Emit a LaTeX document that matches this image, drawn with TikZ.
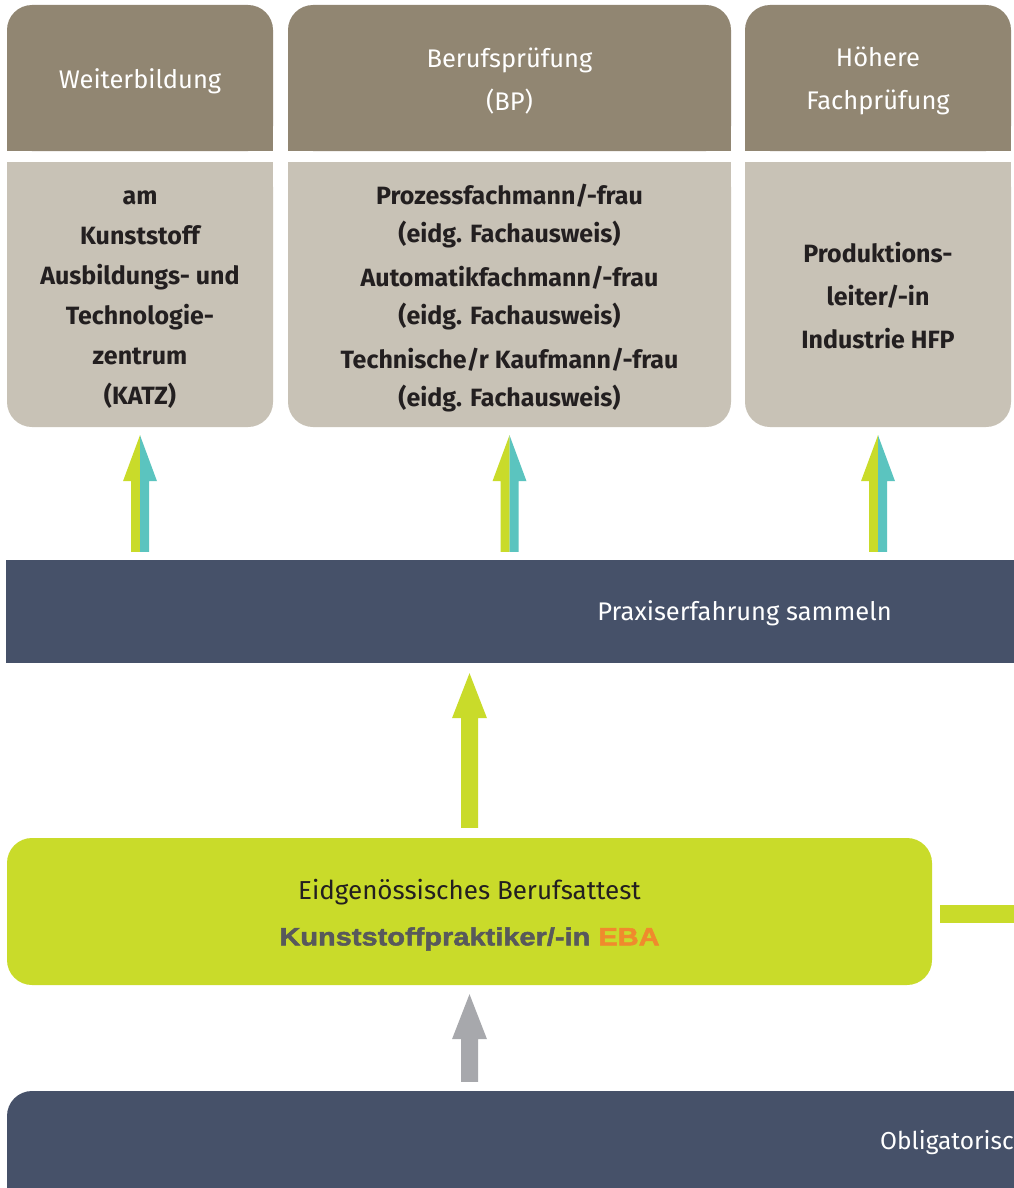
\documentclass[tikz,border=0pt]{standalone}
\usepackage{fontspec}
\setmainfont{Fira Sans}
\newfontfamily\heavyfont[FakeBold=2, FakeStretch=1.16]{Liberation Sans}
\usetikzlibrary{calc}
\definecolor{hdr}{HTML}{918672}
\definecolor{bdy}{HTML}{C8C2B6}
\definecolor{navy}{HTML}{465169}
\definecolor{lime}{HTML}{C9DB2A}
\definecolor{turq}{HTML}{5BC4BF}
\definecolor{greyarr}{HTML}{A7A8AC}
\definecolor{darktext}{HTML}{231F20}
\definecolor{slate}{HTML}{58595B}
\definecolor{orng}{HTML}{F08A2D}
\newcommand\duoarrow[2]{%
  \fill[lime] let \p1=(#1), \p2=(#2) in (\p1) -- (\x1-17pt,\y1-46pt) -- (\x1-9pt,\y1-46pt) -- (\x1-9pt,\y2) -- (\x1,\y2) -- cycle;
  \fill[turq] let \p1=(#1), \p2=(#2) in (\p1) -- (\x1+17pt,\y1-46pt) -- (\x1+9pt,\y1-46pt) -- (\x1+9pt,\y2) -- (\x1,\y2) -- cycle;
}
\newcommand\monoarrow[3]{%
  \fill[#1] let \p1=(#2), \p2=(#3) in (\p1) -- (\x1-17.5pt,\y1-45pt) -- (\x1-8.5pt,\y1-45pt) -- (\x1-8.5pt,\y2) -- (\x1+8.5pt,\y2) -- (\x1+8.5pt,\y1-45pt) -- (\x1+17.5pt,\y1-45pt) -- cycle;
}
\begin{document}
\begin{tikzpicture}[x=1pt,y=-1pt,
  box/.style={inner sep=0pt, rounded corners=25pt, align=center},
  hdrbox/.style={box, fill=hdr, text=white, font=\fontsize{25.5}{43}\selectfont, minimum height=146pt},
  bdybox/.style={box, fill=bdy, text=darktext, font=\bfseries\fontsize{25}{40}\selectfont, minimum height=265pt},
  bar/.style={inner sep=0pt, fill=navy},
  bartext/.style={inner sep=0pt, text=white, font=\fontsize{25.5}{30}\selectfont}]
\clip (0,0) rectangle (1014,1188);
\fill[white] (0,0) rectangle (1014,1188);
% header patches (square bottoms)
\fill[hdr] (7,100) rectangle (273,151);
\fill[hdr] (288,100) rectangle (731,151);
\fill[hdr] (745,100) rectangle (1011,151);
\node[hdrbox, minimum width=266pt] (h1) at (140,78) {};
\node[hdrbox, minimum width=443pt] (h2) at (509.5,78) {};
\node[hdrbox, minimum width=266pt] (h3) at (878,78) {};
\node[hdrbox, fill=none, minimum height=0pt] (h1t) at (140,81) {Weiterbildung};
\node[hdrbox, fill=none, minimum height=0pt] (h2t) at (509.5,81) {Berufsprüfung\\(BP)};
\node[hdrbox, fill=none, minimum height=0pt] (h3t) at (878,81) {Höhere\\Fachprüfung};
% body patches (square tops)
\fill[bdy] (7,162) rectangle (273,220);
\fill[bdy] (288,162) rectangle (731,220);
\fill[bdy] (745,162) rectangle (1011,220);
\node[bdybox, minimum width=266pt] (b1) at (140,294.5) {};
\node[bdybox, minimum width=443pt] (b2) at (509.5,294.5) {};
\node[bdybox, minimum width=266pt] (b3) at (878,294.5) {};
\node[bdybox, fill=none, minimum height=0pt] (b1t) at (140,300) {am\\Kunststoff\\Ausbildungs- und\\Technologie-\\zentrum\\(KATZ)};
\node[bdybox, fill=none, minimum height=0pt, font=\bfseries\fontsize{25}{38}\selectfont] (b2t) at (509.5,298) {Prozessfachmann/-frau\\(eidg. Fachausweis)\\[6pt]Automatikfachmann/-frau\\(eidg. Fachausweis)\\[6pt]Technische/r Kaufmann/-frau\\(eidg. Fachausweis)};
\node[bdybox, fill=none, minimum height=0pt, font=\bfseries\fontsize{25}{43}\selectfont] (b3t) at (878,296) {Produktions-\\leiter/-in\\Industrie HFP};
% practice bar
\node[bar, minimum width=1024pt, minimum height=103pt] (prax) at (518,611.5) {};
\node[bartext] (praxt) at (744.5,613) {Praxiserfahrung sammeln};
% two-tone arrows
\duoarrow{$(b1.south)+(0,8)$}{$(b1.south |- prax.north)+(0,-8)$}
\duoarrow{$(b2.south)+(0,8)$}{$(b2.south |- prax.north)+(0,-8)$}
\duoarrow{$(b3.south)+(0,8)$}{$(b3.south |- prax.north)+(0,-8)$}
% EBA box
\node[box, fill=lime, minimum width=925pt, minimum height=147pt] (eba) at (469.5,911.5) {};
\node[inner sep=0pt, align=center, text=darktext] (ebat) at (469.5,915)
  {{\fontsize{26}{30}\selectfont Eidgenössisches Berufsattest}\\[21pt]
   {\heavyfont\bfseries\fontsize{25}{30}\selectfont\color{slate}Kunststoffpraktiker/-in \color{orng}EBA}};
\draw[lime, line width=18pt] ($(eba.east)+(8,2.5)$) -- ++(120,0);
\monoarrow{lime}{$(eba.north |- prax.south)+(0,10)$}{$(eba.north)+(0,-10)$}
% base bar
\node[bar, rounded corners=25pt, minimum width=1060pt, minimum height=120pt] (base) at (537,1151) {};
\node[bartext, anchor=west, font=\fontsize{24.5}{30}\selectfont] (baset) at (880,1143) {Obligatorisc};
\monoarrow{greyarr}{$(eba.south)+(0,9)$}{$(eba.south |- base.north)+(0,-9)$}
\end{tikzpicture}
\end{document}
